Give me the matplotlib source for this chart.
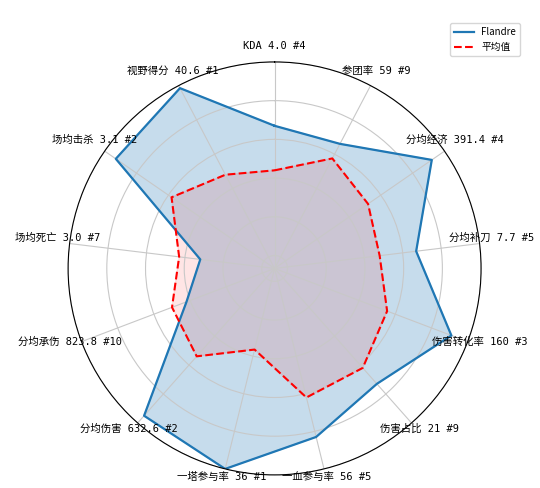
import numpy as np
import matplotlib
matplotlib.use('Agg')
import matplotlib.pyplot as plt
from matplotlib.transforms import offset_copy

plt.rcParams['font.family'] = ['Noto Sans CJK SC', 'DejaVu Sans']
plt.rcParams['axes.unicode_minus'] = False

# stat names, the raw number shown and the rank among players
stats = ['KDA', '参团率', '分均经济', '分均补刀', '伤害转化率', '伤害占比', '一血参与率',
         '一塔参与率', '分均伤害', '分均承伤', '场均死亡', '场均击杀', '视野得分']
stat_values = ['4.0', '59', '391.4', '7.7', '160', '21', '56',
               '36', '632.6', '823.8', '3.0', '3.1', '40.6']
ranks = [4, 9, 4, 5, 3, 9, 5, 1, 2, 10, 7, 2, 1]

# normalised scores (0 - 1)
flandre = [0.67, 0.66, 0.92, 0.67, 0.91, 0.73, 0.83, 1.0, 0.95, 0.42, 0.32, 0.93, 0.985]
average = [0.44, 0.575, 0.52, 0.48, 0.555, 0.62, 0.62, 0.365, 0.54, 0.50, 0.43, 0.58, 0.48]

labels = [f'{s} {v} #{r}' for s, v, r in zip(stats, stat_values, ranks)]
angles = np.linspace(0, 2 * np.pi, len(stats), endpoint=False)
closed = np.concatenate([angles, angles[:1]])


def close(vals):
    return vals + vals[:1]


fig = plt.figure(figsize=(5.4, 4.88), dpi=100)
ax = fig.add_axes([0.1261, 0.0268, 0.7648, 0.8463], polar=True)
ax.set_theta_offset(np.pi / 2)
ax.set_theta_direction(-1)

ax.plot(closed, close(flandre), color='#1f77b4', lw=1.6, label='Flandre')
ax.fill(closed, close(flandre), color='#1f77b4', alpha=0.25)
ax.plot(closed, close(average), 'r--', lw=1.5, label='平均值')
ax.fill(closed, close(average), color='red', alpha=0.1)

ax.set_xticks(angles)
ax.set_xticklabels([])
ax.set_ylim(-0.0667, 1.0)
ax.set_yticks([0, 0.2, 0.4, 0.6, 0.8, 1.0])
ax.set_yticklabels([])
ax.grid(color='#c8c8c8', lw=0.8)
ax.spines['polar'].set_linewidth(0.8)

# axis labels, centred just outside the rim
pad = 9
for ang, lab in zip(angles, labels):
    tr = offset_copy(ax.transData, fig=fig, x=pad * np.sin(ang),
                     y=pad * np.cos(ang) + 2.8, units='points')
    ax.text(ang, 1.0, lab, transform=tr, ha='center', va='center', fontsize=7.5,
            family=['DejaVu Sans Mono', 'Noto Sans CJK SC'])

ax.legend(loc='upper right', bbox_to_anchor=(0.972, 0.962), bbox_transform=fig.transFigure,
          fontsize=7, handlelength=2.0)

fig.savefig('out.png', dpi=100)
